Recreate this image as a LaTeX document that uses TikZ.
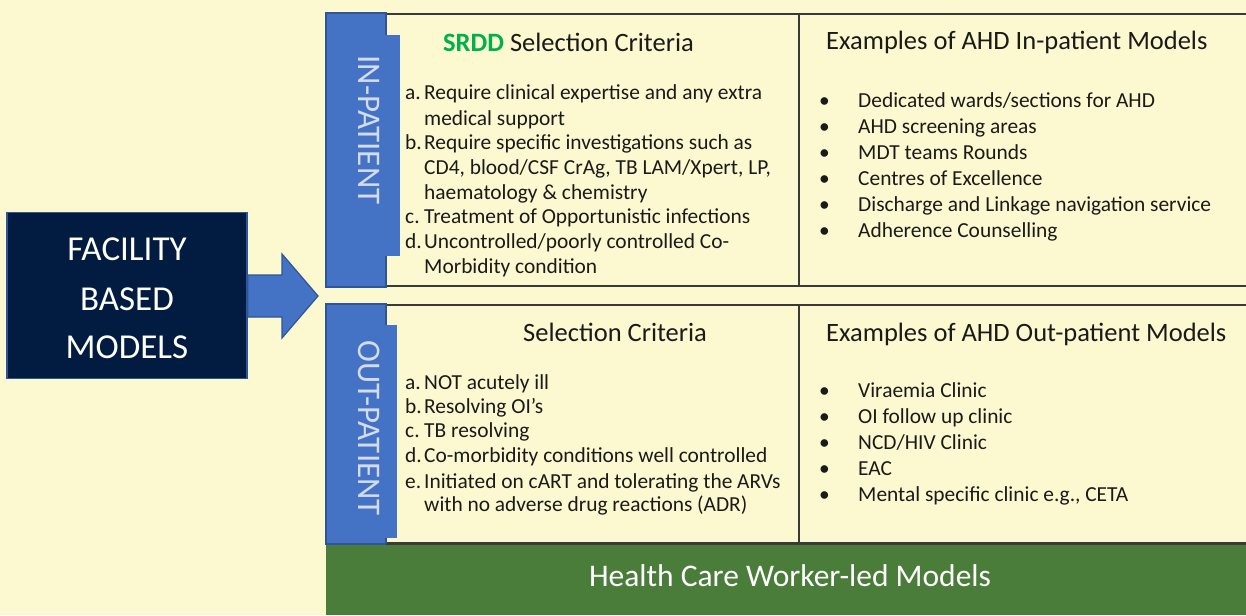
\documentclass[tikz,border=0pt]{standalone}
\usepackage{fontspec}
\setmainfont{Carlito}
\definecolor{bg}{HTML}{FCF8CF}
\definecolor{navy}{HTML}{021B40}
\definecolor{navyedge}{HTML}{2E5596}
\definecolor{tabfill}{HTML}{4472C4}
\definecolor{tabedge}{HTML}{2F5597}
\definecolor{band}{HTML}{4A7C3A}
\definecolor{ink}{HTML}{1A1A1A}
\definecolor{srdd}{HTML}{00B050}
\definecolor{tabtext}{HTML}{D3DBEC}
\definecolor{boxedge}{HTML}{3A3A3A}
\tikzset{
  lbl/.style={inner sep=0pt, anchor=base west, text=ink, font=\fontsize{21.4}{25}\selectfont},
  head/.style={inner sep=0pt, anchor=base west, text=ink, font=\fontsize{26.5}{30}\selectfont},
  tabtxt/.style={inner sep=0pt, text=tabtext, rotate=-90, font=\fontsize{33}{36}\selectfont},
  panel/.style={draw=boxedge, line width=1.4pt},
  tabbox/.style={fill=tabfill, draw=tabedge, line width=1.6pt},
}
\begin{document}
\begin{tikzpicture}[x=1pt,y=-1pt]
\useasboundingbox (0,0) rectangle (1246,615);
\fill[bg] (0,0) rectangle (1246,615);

% panels
\draw[panel] (386,14) rectangle (1252,286);
\draw[panel] (799,14) -- (799,286);
\draw[panel] (386,305) rectangle (1252,543);
\draw[panel] (799,305) -- (799,543);

% tabs
\draw[tabbox] (326,13) rectangle (386,287);
\fill[tabfill] (385,35) rectangle (400,256);
\draw[tabbox] (326,304) rectangle (386,544);
\fill[tabfill] (385,325) rectangle (397,538);
\node[tabtxt] (tin) at (369,130) {IN-PATIENT};
\node[tabtxt] (tout) at (369,428) {OUT-PATIENT};

% green band
\fill[band] (326,545) rectangle (1252,615);
\draw[boxedge, line width=1.2pt] (386,544.5) -- (1252,544.5);
\node[inner sep=0pt, anchor=base, text=white, font=\fontsize{31.5}{34}\selectfont] (hcw) at (790,586) {Health Care Worker-led Models};

% facility box
\node[draw=navyedge, fill=navy, line width=1.6pt, minimum width=240pt, minimum height=166pt, inner sep=0pt] (fac) at (127,295.5) {};
\node[inner sep=0pt, anchor=base, text=white, font=\fontsize{35}{40}\selectfont] (f1) at (127,260) {FACILITY};
\node[inner sep=0pt, anchor=base, text=white, font=\fontsize{35}{40}\selectfont] (f2) at (127,310) {BASED};
\node[inner sep=0pt, anchor=base, text=white, font=\fontsize{35}{40}\selectfont] (f3) at (127,358) {MODELS};

% block arrow
\draw[fill=tabfill, draw=tabedge, line width=1.2pt] (fac.east |- 0,275) -- (282,275) -- (282,254) -- (318,296) -- (282,338) -- (282,317) -- (fac.east |- 0,317) -- cycle;

% headings
\node[head] (h1) at (443,52) {\textbf{\textcolor{srdd}{SRDD}} Selection Criteria};
\node[head] (h2) at (826,50) {Examples of AHD In-patient Models};
\node[head] (h3) at (523,341) {Selection Criteria};
\node[head] (h4) at (826,341) {Examples of AHD Out-patient Models};

% top-left list
\node[lbl] (ia) at (405,100) {a.};
\node[lbl] (ia1) at (424,100) {Require clinical expertise and any extra};
\node[lbl] (ia2) at (424,125) {medical support};
\node[lbl] (ib) at (405,149) {b.};
\node[lbl] (ib1) at (424,149) {Require specific investigations such as};
\node[lbl] (ib2) at (424,174) {CD4, blood/CSF CrAg, TB LAM/Xpert, LP,};
\node[lbl] (ib3) at (424,199) {haematology \& chemistry};
\node[lbl] (ic) at (405,223) {c.};
\node[lbl] (ic1) at (424,223) {Treatment of Opportunistic infections};
\node[lbl] (id) at (405,248) {d.};
\node[lbl] (id1) at (424,248) {Uncontrolled/poorly controlled Co-};
\node[lbl] (id2) at (424,273) {Morbidity condition};

% bottom-left list
\node[lbl] (oa) at (405,389) {a.};
\node[lbl] (oa1) at (424,389) {NOT acutely ill};
\node[lbl] (ob) at (405,413) {b.};
\node[lbl] (ob1) at (424,413) {Resolving OI’s};
\node[lbl] (oc) at (405,437) {c.};
\node[lbl] (oc1) at (424,437) {TB resolving};
\node[lbl] (od) at (405,462) {d.};
\node[lbl] (od1) at (424,462) {Co-morbidity conditions well controlled};
\node[lbl] (oe) at (405,488) {e.};
\node[lbl] (oe1) at (424,488) {Initiated on cART and tolerating the ARVs};
\node[lbl] (oe2) at (424,511) {with no adverse drug reactions (ADR)};

% top-right bullets
\foreach \t [count=\i] in {Dedicated wards/sections for AHD, AHD screening areas, MDT teams Rounds, Centres of Excellence, Discharge and Linkage navigation service, Adherence Counselling}{
  \node[lbl] (tb\i) at (819,81+26*\i) {•};
  \node[lbl] (tt\i) at (858,81+26*\i) {\t};
}
% bottom-right bullets
\foreach \t [count=\i] in {Viraemia Clinic, OI follow up clinic, NCD/HIV Clinic, EAC, {Mental specific clinic e.g., CETA}}{
  \node[lbl] (bb\i) at (819,372+25.8*\i) {•};
  \node[lbl] (bt\i) at (858,372+25.8*\i) {\t};
}
\end{tikzpicture}
\end{document}
